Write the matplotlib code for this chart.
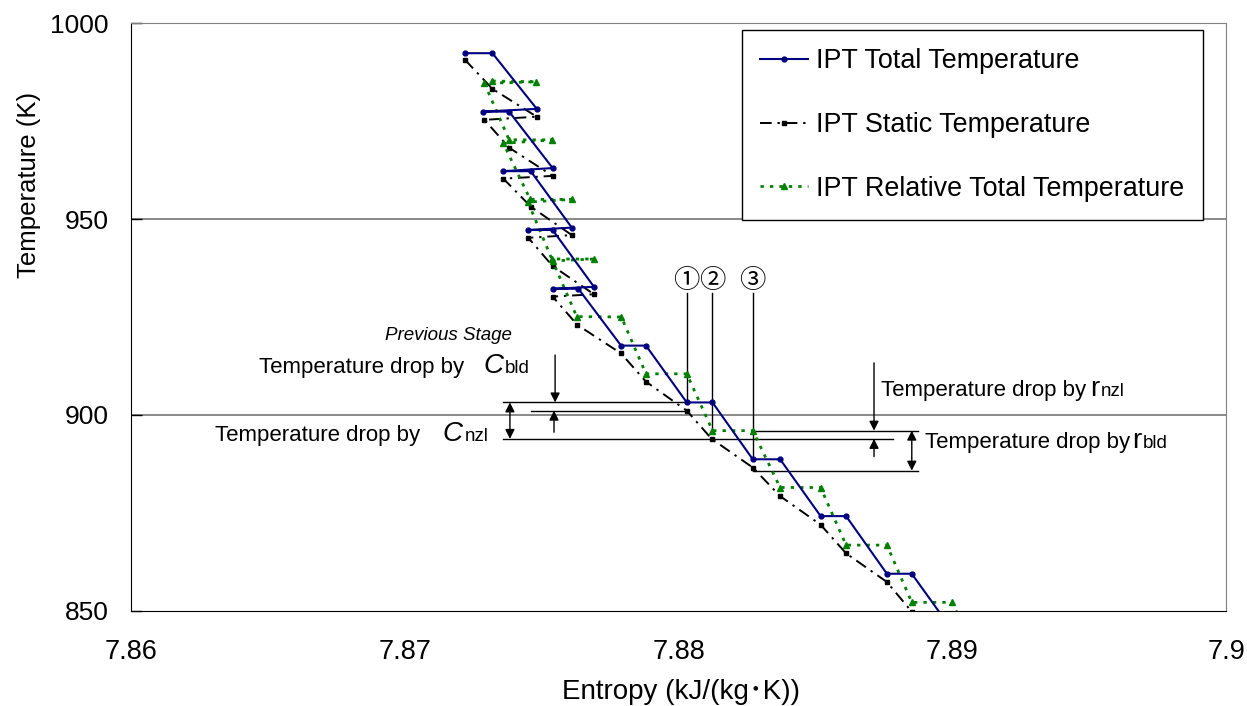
import matplotlib
matplotlib.use('Agg')
from matplotlib import pyplot as plt

plt.rcParams['font.family'] = ['Liberation Sans', 'Noto Sans CJK JP', 'DejaVu Sans']

# IPT expansion line
s_total = [7.87220, 7.87320, 7.87482, 7.87287, 7.87381, 7.87540, 7.87360, 7.87460,
           7.87610, 7.87451, 7.87540, 7.87691, 7.87540, 7.87634, 7.87790, 7.87881,
           7.88030, 7.88124, 7.88271, 7.88371, 7.88519, 7.88612, 7.88761, 7.88852, 7.89001]
t_total = [992.3, 992.3, 978.1, 977.4, 977.4, 963.0, 962.2, 962.2,
           947.8, 947.2, 947.2, 932.7, 932.2, 932.2, 917.7, 917.7,
           903.2, 903.2, 888.7, 888.7, 874.2, 874.2, 859.5, 859.5, 845.0]

s_static = [7.87220, 7.87320, 7.87482, 7.87291, 7.87381, 7.87540, 7.87360, 7.87461,
            7.87610, 7.87451, 7.87540, 7.87691, 7.87540, 7.87630, 7.87790, 7.87881,
            7.88030, 7.88121, 7.88271, 7.88371, 7.88519, 7.88612, 7.88761, 7.88852, 7.89001]
t_static = [990.6, 983.2, 976.1, 975.3, 968.2, 961.0, 960.3, 953.1,
            945.9, 945.2, 938.0, 930.8, 930.2, 923.0, 915.7, 908.5,
            901.1, 893.9, 886.6, 879.3, 872.0, 864.7, 857.4, 849.8, 842.5]

s_rel = [7.87320, 7.87478, 7.87291, 7.87381, 7.87539, 7.87360, 7.87458, 7.87610,
         7.87450, 7.87537, 7.87691, 7.87540, 7.87628, 7.87791, 7.87881, 7.88030,
         7.88124, 7.88271, 7.88371, 7.88519, 7.88612, 7.88761, 7.88852, 7.89000, 7.89091]
t_rel = [985.2, 985.0, 984.6, 970.2, 970.2, 969.3, 955.0, 955.0,
         954.3, 939.8, 939.8, 939.3, 925.1, 925.0, 910.5, 910.5,
         896.0, 896.0, 881.5, 881.5, 866.8, 866.8, 852.2, 852.2, 837.7]

labels = ['IPT Total Temperature', 'IPT Static Temperature', 'IPT Relative Total Temperature']
x_ticks = [7.86, 7.87, 7.88, 7.89, 7.9]
x_ticklabels = ['7.86', '7.87', '7.88', '7.89', '7.9']
y_ticks = [850, 900, 950, 1000]

fig = plt.figure(figsize=(12.47, 7.06), dpi=100)
ax = fig.add_axes([0.1051, 0.1346, 0.8781, 0.8328])

for y in y_ticks[1:]:
    ax.axhline(y, color='#808080', lw=1.3, zorder=1)

ax.plot(s_total, t_total, color='#000080', lw=1.5, marker='o', ms=3.5, label=labels[0], zorder=4)
ax.plot(s_static, t_static, color='black', lw=1.4, ls=(0, (6, 3, 1.2, 3)), marker='s', ms=3.5,
        label=labels[1], zorder=3)
ax.plot(s_rel, t_rel, color='#008000', lw=2, ls=(0, (1.2, 2.2)), marker='^', ms=5,
        label=labels[2], zorder=3)

ax.set_xlim(7.86, 7.9)
ax.set_ylim(850, 1000)
ax.set_xticks(x_ticks)
ax.set_xticklabels(x_ticklabels)
ax.set_yticks(y_ticks)
ax.tick_params(axis='y', direction='in', length=8, width=1, labelsize=19, pad=16)
ax.tick_params(axis='x', length=0, labelsize=19.5, pad=20)
ax.spines['top'].set_color('#808080')
ax.spines['right'].set_color('#808080')

ax.set_xlabel('Entropy (kJ/(kg･K))', fontsize=20)
ax.set_ylabel('Temperature (K)', fontsize=18.5)
ax.xaxis.set_label_coords(0.502, -0.115)
ax.yaxis.set_label_coords(-0.082, 0.724)

leg = ax.legend(loc='upper left', bbox_to_anchor=(0.558, 0.988), borderaxespad=0,
                fontsize=19.4, fancybox=False, framealpha=1, edgecolor='black',
                handlelength=1.78, handletextpad=0.3, labelspacing=1.4, borderpad=0.68,
                numpoints=1)
leg.get_frame().set_linewidth(1)

# guide lines for the stage breakdown
ln = dict(color='black', lw=1, zorder=2)
ax.plot([7.87359, 7.88030], [903.2, 903.2], **ln)
ax.plot([7.87461, 7.88030], [901.1, 901.1], **ln)
ax.plot([7.87359, 7.88784], [893.9, 893.9], **ln)
ax.plot([7.88271, 7.88875], [896.0, 896.0], **ln)
ax.plot([7.88271, 7.88875], [885.8, 885.8], **ln)
for sx, ty, mark in [(7.88030, 903.2, '①'), (7.88124, 896.0, '②'), (7.88271, 888.7, '③')]:
    ax.plot([sx, sx], [931.0, ty], **ln)
    ax.text(sx, 934.3, mark, fontsize=19, ha='center', va='center', family='Noto Sans CJK JP')

arr = dict(arrowstyle='-|>', color='black', lw=1, mutation_scale=14, shrinkA=0, shrinkB=0)
arr2 = dict(arrowstyle='<|-|>', color='black', lw=1, mutation_scale=14, shrinkA=0, shrinkB=0)
ax.annotate('', xy=(7.87549, 903.2), xytext=(7.87549, 915.3), arrowprops=arr)
ax.annotate('', xy=(7.87545, 901.1), xytext=(7.87545, 895.6), arrowprops=arr)
ax.annotate('', xy=(7.87384, 903.2), xytext=(7.87384, 893.9), arrowprops=arr2)
ax.annotate('', xy=(7.88714, 896.0), xytext=(7.88714, 913.3), arrowprops=arr)
ax.annotate('', xy=(7.88714, 893.9), xytext=(7.88714, 889.4), arrowprops=arr)
ax.annotate('', xy=(7.88852, 896.0), xytext=(7.88852, 885.8), arrowprops=arr2)

ax.text(7.87392, 919.1, 'Previous Stage', fontsize=13.5, style='italic', ha='right', va='baseline')

ax.text(7.86468, 910.7, 'Temperature drop by', fontsize=16, ha='left', va='baseline')
ax.text(7.87289, 910.7, 'C', fontsize=20, style='italic', ha='left', va='baseline')
ax.text(7.87366, 910.7, 'bld', fontsize=13.5, ha='left', va='baseline')

ax.text(7.86307, 893.4, 'Temperature drop by', fontsize=16, ha='left', va='baseline')
ax.text(7.87136, 893.4, 'C', fontsize=20, style='italic', ha='left', va='baseline')
ax.text(7.87220, 893.4, 'nzl', fontsize=13.5, ha='left', va='baseline')

ax.text(7.88740, 904.8, 'Temperature drop by', fontsize=16, ha='left', va='baseline')
ax.text(7.89503, 904.8, 'r', fontsize=20, ha='left', va='baseline')
ax.text(7.89543, 904.8, 'nzl', fontsize=13.5, ha='left', va='baseline')

ax.text(7.88900, 891.5, 'Temperature drop by', fontsize=16, ha='left', va='baseline')
ax.text(7.89657, 891.5, 'r', fontsize=20, ha='left', va='baseline')
ax.text(7.89697, 891.5, 'bld', fontsize=13.5, ha='left', va='baseline')

fig.savefig('out.png', dpi=100)
plt.close(fig)
